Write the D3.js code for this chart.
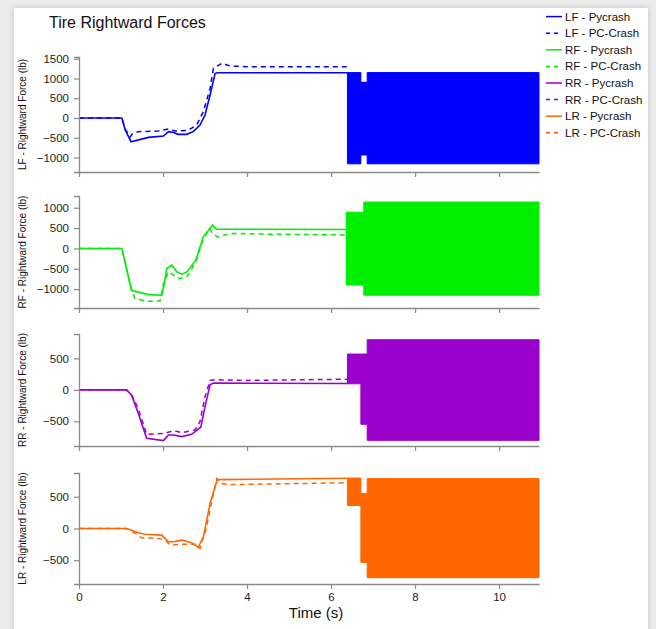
<!DOCTYPE html>
<html>
<head>
<meta charset="utf-8">
<script src="https://cdn.jsdelivr.net/npm/d3@7"></script>
<style>
  body { margin: 0; background: #ececec; font-family: "Liberation Sans", Arial, sans-serif; }
  #card { position: absolute; left: 14px; top: 8px; width: 634px; height: 640px; background: #fff;
          box-shadow: 0 0 6px rgba(0,0,0,0.18); }
  svg { position: absolute; left: 0; top: 0; }
</style>
</head>
<body>
<div id="card"></div>
<div id="chart"></div>
<script>
// time (s), force (lb) pairs
var lfPycrash = [[0,0],[1.02,0],[1.10,-304],[1.24,-600],[1.65,-490],[2.01,-456],[2.13,-346],[2.25,-366],[2.36,-414],[2.56,-414],[2.72,-346],[2.88,-177],[3.0,76],[3.12,582],[3.24,1131],[3.3,1145],[6.39,1145]];
var lfPcCrash = [[0,0],[1.02,0],[1.10,-280],[1.22,-480],[1.27,-400],[1.41,-346],[1.89,-329],[2.13,-278],[2.28,-329],[2.6,-312],[2.80,-177],[2.96,160],[3.12,750],[3.2,1257],[3.4,1385],[3.6,1316],[4.0,1300],[6.45,1300]];
var rfPycrash = [[0,0],[1.02,0],[1.25,-1027],[1.65,-1134],[1.97,-1150],[2.03,-862],[2.09,-493],[2.21,-411],[2.33,-576],[2.45,-633],[2.57,-576],[2.78,-288],[2.96,286],[3.18,574],[3.27,475],[6.36,465]];
var rfPcCrash = [[0,0],[1.02,0],[1.22,-904],[1.33,-1232],[1.65,-1300],[1.93,-1290],[2.01,-862],[2.13,-576],[2.25,-658],[2.40,-740],[2.57,-700],[2.78,-330],[2.96,250],[3.12,492],[3.17,370],[3.32,271],[3.48,335],[3.71,369],[4.5,350],[6.45,330]];
var rrPycrash = [[0,0],[1.13,0],[1.25,-80],[1.41,-372],[1.61,-771],[2.01,-808],[2.13,-718],[2.25,-718],[2.45,-744],[2.68,-707],[2.90,-595],[3.0,-266],[3.12,80],[3.2,107],[6.39,100]];
var rrPcCrash = [[0,0],[1.13,0],[1.27,-100],[1.41,-300],[1.61,-707],[2.05,-691],[2.25,-649],[2.45,-680],[2.76,-638],[2.88,-505],[3.0,-106],[3.12,149],[3.24,160],[4.0,150],[6.45,170]];
var lrPycrash = [[0,0],[1.13,0],[1.41,-69],[1.57,-90],[1.97,-105],[2.13,-210],[2.25,-210],[2.45,-183],[2.68,-226],[2.84,-298],[2.96,-132],[3.12,392],[3.29,769],[6.39,790]];
var lrPcCrash = [[0,0],[1.13,0],[1.35,-79],[1.49,-148],[1.89,-157],[2.05,-183],[2.17,-262],[2.45,-247],[2.8,-247],[2.88,-314],[3.02,-26],[3.2,549],[3.28,785],[3.4,706],[3.6,690],[6.45,720]];

// envelope of the dense Pycrash oscillation after ~6.4 s: [start time, high, low]
var lfBand = [[6.39,1150,-1160],[6.71,904,-937],[6.86,1150,-1160],[10.95,1150,-1160]];
var rfBand = [[6.36,890,-900],[6.78,1140,-1150],[10.95,1140,-1150]];
var rrBand = [[6.39,569,96],[6.71,569,-548],[6.86,797,-803],[10.95,797,-803]];
var lrBand = [[6.39,794,361],[6.71,549,-534],[6.86,785,-775],[10.95,785,-775]];

var tireNames = ["LF", "RF", "RR", "LR"];
var tireColors = ["#0000ff", "#00ee00", "#9900cc", "#ff6600"];
var yTicks = [[-1000,-500,0,500,1000,1500],[-1000,-500,0,500,1000],[-500,0,500],[-500,0,500]];
var xTicks = [0, 2, 4, 6, 8, 10];

var pycrashData = [lfPycrash, rfPycrash, rrPycrash, lrPycrash];
var pcCrashData = [lfPcCrash, rfPcCrash, rrPcCrash, lrPcCrash];
var bands = [lfBand, rfBand, rrBand, lrBand];

// layout
var panels = [
    {top: 57, bottom: 172, domain: [-1367, 1544]},
    {top: 196, bottom: 308, domain: [-1463, 1288]},
    {top: 334, bottom: 446, domain: [-893, 888]},
    {top: 473, bottom: 584, domain: [-874, 873]}
];

var svg = d3.select("#chart").append("svg")
    .attr("width", 656)
    .attr("height", 629);

var x = d3.scaleLinear().domain([0, 10.95]).range([79, 539]);

svg.append("text")
    .attr("x", 49).attr("y", 28)
    .attr("font-size", "16px")
    .attr("fill", "#111")
    .text("Tire Rightward Forces");

panels.forEach(function(p, i) {
    var y = d3.scaleLinear().domain(p.domain).range([p.bottom, p.top]);
    var color = tireColors[i];
    var g = svg.append("g");

    var line = d3.line()
        .x(d => x(d[0]))
        .y(d => y(d[1]));

    // dense oscillation drawn as its envelope
    var area = d3.area()
        .curve(d3.curveStepAfter)
        .x(d => x(d[0]))
        .y0(d => y(d[2]))
        .y1(d => y(d[1]));

    g.append("path")
        .datum(bands[i])
        .attr("d", area)
        .attr("fill", color)
        .attr("stroke", color)
        .attr("stroke-width", 1);

    g.append("path")
        .datum(pcCrashData[i])
        .attr("d", line)
        .attr("fill", "none")
        .attr("stroke", color)
        .attr("stroke-width", 1.5)
        .attr("stroke-dasharray", "5,4");

    g.append("path")
        .datum(pycrashData[i])
        .attr("d", line)
        .attr("fill", "none")
        .attr("stroke", color)
        .attr("stroke-width", 1.6);

    // axes
    var yAxis = g.append("g")
        .attr("transform", "translate(79,0)")
        .call(d3.axisLeft(y).tickValues(yTicks[i]).tickFormat(d3.format("d")).tickSize(5).tickPadding(5));

    var xAxis = g.append("g")
        .attr("transform", `translate(0, ${p.bottom})`)
        .call(d3.axisBottom(x).tickValues(xTicks).tickSize(5).tickPadding(4).tickSizeOuter(0));
    if (i < 3) xAxis.selectAll("text").remove();

    [yAxis, xAxis].forEach(function(a) {
        a.select(".domain").attr("stroke", "#8a8a8a").attr("stroke-width", 1.3);
        a.selectAll(".tick line").attr("stroke", "#8a8a8a").attr("stroke-width", 1.2);
        a.selectAll("text").attr("font-size", "11.5px").attr("fill", "#222")
            .attr("font-family", "Liberation Sans, Arial, sans-serif");
    });

    g.append("text")
        .attr("transform", `translate(26, ${(p.top + p.bottom) / 2}) rotate(-90)`)
        .attr("text-anchor", "middle")
        .attr("font-size", "10px")
        .attr("fill", "#111")
        .text(tireNames[i] + " - Rightward Force (lb)");
});

svg.append("text")
    .attr("x", 316).attr("y", 618)
    .attr("text-anchor", "middle")
    .attr("font-size", "15px")
    .attr("fill", "#111")
    .text("Time (s)");

// legend
var legendItems = [];
tireNames.forEach(function(n, i) {
    legendItems.push({label: n + " - Pycrash", color: tireColors[i], dash: null});
    legendItems.push({label: n + " - PC-Crash", color: tireColors[i], dash: "4,4"});
});

var legend = svg.append("g");
legendItems.forEach(function(d, i) {
    var cy = 16.6 + i * 16.6;
    legend.append("line")
        .attr("x1", 546).attr("x2", 562)
        .attr("y1", cy).attr("y2", cy)
        .attr("stroke", d.color)
        .attr("stroke-width", 1.5)
        .attr("stroke-dasharray", d.dash);
    legend.append("text")
        .attr("x", 565).attr("y", cy + 4)
        .attr("font-size", "11.5px")
        .attr("fill", "#111")
        .text(d.label);
});
</script>
</body>
</html>
